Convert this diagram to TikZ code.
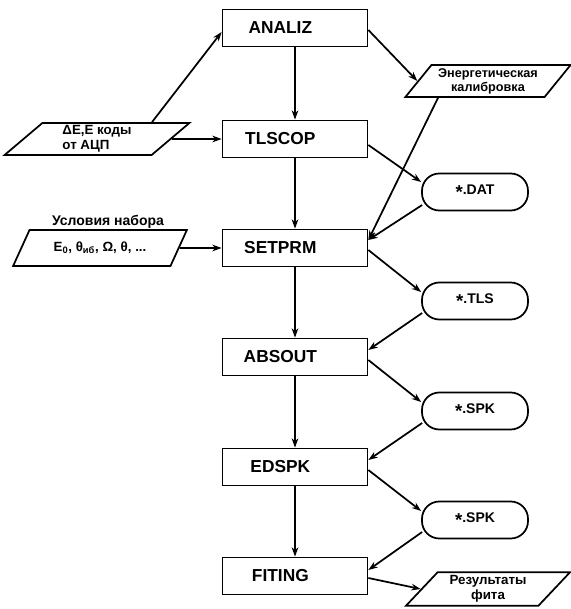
\documentclass[tikz,border=0pt]{standalone}
\usepackage{fontspec}
\setmainfont{Liberation Sans}
\usetikzlibrary{positioning,arrows.meta,shapes.geometric,calc}
\tikzset{
  prog/.style={draw, line width=1.3pt, minimum width=108.75pt, minimum height=27.75pt,
    inner sep=0pt, font=\fontsize{13}{15}\selectfont\bfseries,
    execute at end node={\hspace*{22pt}}},
  file/.style={draw, line width=1.3pt, rounded corners=13pt, minimum width=79.5pt,
    minimum height=27.75pt, inner sep=0pt, font=\fontsize{10.5}{12}\selectfont\bfseries},
  data/.style={draw, line width=1.3pt, trapezium, trapezium left angle=48,
    trapezium right angle=132, trapezium stretches=true, inner sep=0pt,
    font=\fontsize{10}{11}\selectfont\bfseries, align=center},
  flow/.style={line width=1.3pt, -{Stealth[length=7pt,width=5pt]}},
}
\newcommand{\fstar}{\raisebox{-0.3em}{\fontsize{14}{14}\selectfont *}}
\begin{document}
\begin{tikzpicture}[x=0.75pt,y=-0.75pt]
  \useasboundingbox (0,0) rectangle (570,609);
  \def\cx{295}
  \def\fx{475}
  % programs
  \node[prog] (analiz) at (\cx,28)  {ANALIZ};
  \node[prog] (tlscop) at (\cx,139) {TLSCOP};
  \node[prog] (setprm) at (\cx,248) {SETPRM};
  \node[prog] (absout) at (\cx,357) {ABSOUT};
  \node[prog] (edspk)  at (\cx,467) {EDSPK};
  \node[prog] (fiting) at (\cx,576) {FITING};
  % files
  \node[file] (dat)  at (\fx,192) {\fstar.DAT};
  \node[file] (tls)  at (\fx,301) {\fstar.TLS};
  \node[file] (spka) at (\fx,411) {\fstar.SPK};
  \node[file] (spkb) at (\fx,520) {\fstar.SPK};
  % input / output data
  \node[data, minimum width=138.75pt, minimum height=24pt, align=left] (adc) at (97,139)
        {ΔE,E коды\\от АЦП};
  \node[data, minimum width=131pt, minimum height=27pt] (cond) at (100,248)
        {E\textsubscript{0}, θ\textsubscript{иб}, Ω, θ, ...};
  \node[font=\fontsize{10.5}{12}\selectfont\bfseries] (condlbl) at (108,222) {Условия набора};
  \node[data, minimum width=124pt, minimum height=24pt, font=\fontsize{9.5}{10.5}\selectfont\bfseries]
        (cal) at (488,81) {Энергетическая\\калибровка};
  \node[data, minimum width=124pt, minimum height=25pt] (res) at (488,589)
        {Результаты\\фита};
  % main chain
  \draw[flow] (analiz) -- (tlscop);
  \draw[flow] (tlscop) -- (setprm);
  \draw[flow] (setprm) -- (absout);
  \draw[flow] (absout) -- (edspk);
  \draw[flow] (edspk) -- (fiting);
  % inputs
  \draw[flow] ($(adc.north)+(55,0)$) -- ($(analiz.west)+(0,4)$);
  \draw[flow] (adc.east) -- (tlscop.west);
  \draw[flow] (cond.east) -- (setprm.west);
  \draw[flow] ($(analiz.east)+(0,2)$) -- (cal.west);
  \draw[flow] ($(cal.south)+(-50,0)$) -- ($(setprm.east)+(0,-8)$);
  % files
  \draw[flow] ($(tlscop.east)+(0,6)$) -- ($(dat.west)+(0,-10)$);
  \draw[flow] ($(dat.west)+(1,13)$) -- ($(setprm.east)+(0,-8)$);
  \draw[flow] ($(setprm.east)+(0,2)$) -- ($(tls.west)+(0,-9)$);
  \draw[flow] ($(tls.west)+(1,12)$) -- ($(absout.east)+(0,-7)$);
  \draw[flow] ($(absout.east)+(0,3)$) -- ($(spka.west)+(0,-9)$);
  \draw[flow] ($(spka.west)+(1,12)$) -- ($(edspk.east)+(0,-7)$);
  \draw[flow] ($(edspk.east)+(0,3)$) -- ($(spkb.west)+(0,-9)$);
  \draw[flow] ($(spkb.west)+(1,12)$) -- ($(fiting.east)+(0,-6)$);
  \draw[flow] ($(fiting.east)+(0,2)$) -- (res.west);
\end{tikzpicture}
\end{document}
